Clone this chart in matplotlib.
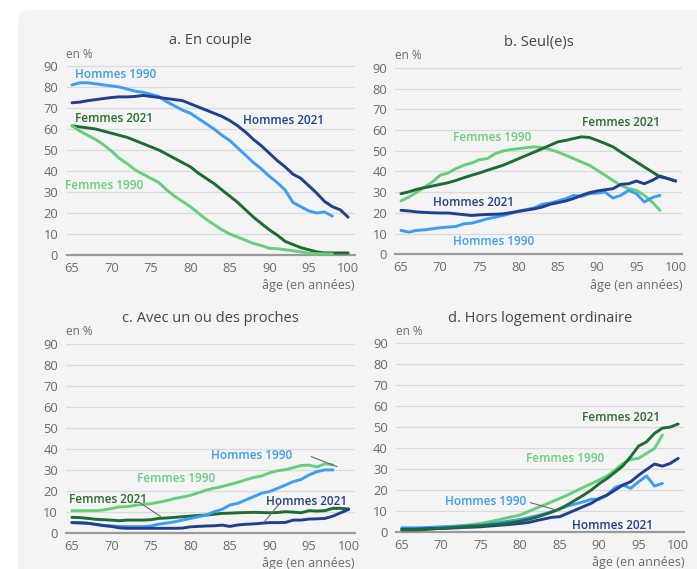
import matplotlib
matplotlib.use("Agg")
import matplotlib.pyplot as plt
from matplotlib.patches import FancyBboxPatch

plt.rcParams['font.family'] = ['Open Sans', 'DejaVu Sans']

ages_2021 = list(range(65, 101))
ages_1990 = list(range(65, 99))

# a. En couple
a_h1990 = [81, 82, 82, 81.5, 81, 80.5, 80, 79, 78, 77.5, 76.5, 75.5, 73, 71, 69, 67.5, 65, 62.5,
           60, 57, 54.5, 51, 47.5, 44, 41, 37.5, 34.5, 31, 25, 23, 21, 20, 20.5, 18.5]
a_h2021 = [72.5, 72.8, 73.5, 74, 74.5, 75, 75.3, 75.3, 75.5, 76, 75.5, 75, 74.5, 74, 73.5, 72, 70.5,
           69, 67.5, 66, 64, 61.5, 58.5, 55, 52, 48.5, 45, 42, 38.5, 36.5, 33, 29.5, 25.5, 23, 21.5, 18]
a_f2021 = [61.5, 61, 60.5, 60, 59, 58, 57, 56, 54.5, 53, 51.5, 50, 48, 46, 44, 42, 39, 36.5, 34, 31,
           28, 25, 21.5, 18, 15, 12, 9.5, 6.5, 5, 3.5, 2.5, 1.5, 1, 1, 1, 1]
a_f1990 = [61.5, 59, 57, 55, 52.5, 49.5, 46, 43.5, 40.5, 38.5, 36.5, 34.5, 31, 28, 25.5, 23, 20, 17,
           14.5, 12, 10, 8.5, 7, 5.5, 4.5, 3.2, 3, 2.5, 2, 1.5, 0.8, 0.6, 0.5, 0.5]

# b. Seul(e)s
b_f2021 = [29.3, 30.2, 31.4, 32.2, 33, 33.8, 34.6, 35.7, 37, 38.2, 39.3, 40.6, 41.8, 43, 44.6, 46.2,
           47.8, 49.4, 51, 52.7, 54.3, 55, 55.9, 56.7, 56.4, 55, 53.5, 51.9, 49.4, 47, 44.6, 42.2,
           39.8, 37.4, 36.6, 35.4]
b_f1990 = [25.8, 27.7, 30, 32.5, 35, 38.2, 39.3, 41.4, 43, 44.1, 45.7, 46.2, 48.6, 49.9, 50.6, 51,
           51.5, 51.9, 51.5, 50.6, 49.4, 47.8, 46.2, 44.6, 43, 40.6, 38.2, 35.7, 33.3, 31.7, 30.9,
           28.5, 25.3, 21.3]
b_h2021 = [21.3, 21, 20.5, 20.3, 20.1, 20, 20, 19.6, 19.2, 18.8, 19.1, 19.3, 19.4, 19.6, 20.2, 20.8,
           21.4, 22, 22.9, 24.2, 25, 25.8, 27, 28.5, 29.8, 30.6, 31.2, 31.7, 33.8, 34.1, 35.4, 34.1,
           35.7, 37.8, 36.6, 35.4]
b_h1990 = [11.6, 10.8, 11.6, 11.9, 12.4, 12.9, 13.2, 13.5, 14.8, 15.1, 16.1, 17.2, 18, 18.8, 19.8,
           20.9, 21.7, 22.5, 24.2, 24.8, 25.8, 26.9, 28.5, 28, 29.3, 29.6, 30.1, 27.2, 28.5, 30.9,
           29.3, 25.3, 27.4, 28.5]

# c. Avec un ou des proches
c_f1990 = [10.5, 10.5, 10.5, 10.5, 10.8, 11.5, 12.3, 12.4, 13, 13.5, 13.8, 14.5, 15.3, 16.3, 17,
           17.8, 19, 20.3, 21.2, 22, 23, 24, 25.2, 26.3, 27, 28.5, 29.5, 30, 31, 32, 32.2, 31.3,
           32.8, 32.3]
c_h1990 = [4.8, 4.7, 4.5, 3.9, 3.4, 3.2, 3, 2.9, 2.9, 2.9, 3.2, 4.1, 4.6, 5.2, 6, 6.8, 7.6, 8.4,
           10, 11.1, 13.2, 14, 15.6, 17.2, 18.8, 19.6, 21.1, 22.7, 24.3, 25.4, 27.5, 29.1, 29.9, 29.9]
c_f2021 = [7.3, 7.2, 6.8, 6.4, 6.2, 6, 5.7, 6, 6, 6, 6.2, 6.8, 7, 7.3, 7.6, 7.9, 8.2, 8.4, 8.8, 9.2,
           9.3, 9.5, 9.6, 9.7, 9.6, 9.5, 9.6, 10, 9.8, 9.5, 10.5, 10.3, 10.5, 11.6, 11.6, 11.3]
c_h2021 = [4.8, 4.7, 4.5, 4, 3.4, 3, 2.3, 2.1, 2.1, 2.1, 2.1, 2.1, 2.1, 2.1, 2.2, 2.8, 3, 3.2, 3.3,
           3.6, 3, 3.7, 4, 4.2, 4.5, 4.8, 4.8, 4.9, 6, 6, 6.5, 6.6, 6.8, 7.9, 9.5, 11.1]

# d. Hors logement ordinaire
d_h1990 = [2, 2, 2, 2.1, 2.3, 2.5, 2.6, 2.8, 3, 3.1, 3.3, 3.8, 4.3, 4.9, 5.4, 6, 6.8, 7.6, 8.6, 9.7,
           11, 12.4, 13.4, 14.4, 15.6, 15.6, 17.6, 21.3, 22.4, 20.8, 24, 26.7, 21.9, 23.2]
d_h2021 = [1.3, 1.3, 1.4, 1.5, 1.6, 1.7, 1.8, 2, 2.2, 2.3, 2.5, 2.8, 3.1, 3.4, 3.7, 4.1, 4.5, 5.4,
           6.2, 7, 7.3, 8.9, 10.5, 12.1, 13.7, 16, 17.6, 20, 22.4, 24, 27.1, 29.8, 32.4, 31.4, 32.7, 35.1]
d_f1990 = [1.3, 1.4, 1.5, 1.7, 1.8, 2, 2.4, 2.8, 3.2, 3.6, 4.1, 4.8, 5.6, 6.5, 7.3, 8.1, 9.7, 11.3,
           12.8, 14.4, 16, 17.6, 19.5, 21.3, 23, 24.8, 26.7, 29.5, 32.7, 34.6, 35.1, 37.5, 39.8, 46.2]
d_f2021 = [1, 1, 1, 1.2, 1.5, 1.8, 2, 2.3, 2.5, 2.8, 3, 3.3, 3.6, 4, 4.5, 5.2, 6, 7, 8.2, 9.5, 11,
           13, 15.3, 17.5, 20, 23, 25.5, 28.5, 31.5, 36, 41, 43, 47, 49.5, 50, 51.5]

titles = ["a. En couple", "b. Seul(e)s", "c. Avec un ou des proches", "d. Hors logement ordinaire"]
yticks = [0, 10, 20, 30, 40, 50, 60, 70, 80, 90]
xticks = [65, 70, 75, 80, 85, 90, 95, 100]

C_H1990 = "#3d9cf4"
C_H2021 = "#213f8c"
C_F2021 = "#1f6b34"
C_F1990 = "#66cf7d"
C_F2021_TXT = "#2b6a2e"

W, H = 697, 569
fig = plt.figure(figsize=(W / 100, H / 100), dpi=100)
fig.patch.set_facecolor("white")
bg = FancyBboxPatch((18 / W, -0.05), 1.0, 1.0 - 10 / H + 0.05,
                    boxstyle="round,pad=0,rounding_size=0.02",
                    transform=fig.transFigure, facecolor="#f4f4f4", edgecolor="none", zorder=-10)
fig.patches.append(bg)

def ax_at(left_px, top_px, right_px, bottom_px):
    return fig.add_axes([left_px / W, 1 - bottom_px / H, (right_px - left_px) / W,
                         (bottom_px - top_px) / H])

XL = (64.3, 100.8)
YL = (0, 92)
# pixel boxes (left, top, right, bottom) for data limits
boxes = [(66.5, 61.8, 354.5, 255), (395.5, 63.6, 682, 254.5),
         (66.3, 339.5, 355, 532.7), (396.2, 339, 684.5, 532)]
axes = [ax_at(*b) for b in boxes]

series = [
    [(ages_1990, a_h1990, C_H1990), (ages_2021, a_h2021, C_H2021),
     (ages_2021, a_f2021, C_F2021), (ages_1990, a_f1990, C_F1990)],
    [(ages_1990, b_f1990, C_F1990), (ages_2021, b_f2021, C_F2021),
     (ages_1990, b_h1990, C_H1990), (ages_2021, b_h2021, C_H2021)],
    [(ages_1990, c_f1990, C_F1990), (ages_2021, c_f2021, C_F2021),
     (ages_1990, c_h1990, C_H1990), (ages_2021, c_h2021, C_H2021)],
    [(ages_1990, d_f1990, C_F1990), (ages_1990, d_h1990, C_H1990),
     (ages_2021, d_h2021, C_H2021), (ages_2021, d_f2021, C_F2021)],
]

labels = [
    [("Hommes 1990", 65.4, 86, C_H1990), ("Femmes 2021", 65.4, 65, C_F2021_TXT),
     ("Femmes 1990", 64.1, 33, C_F1990), ("Hommes 2021", 86.7, 64, C_H2021)],
    [("Femmes 2021", 88.0, 63.4, C_F2021_TXT), ("Femmes 1990", 71.6, 56.2, C_F1990),
     ("Hommes 2021", 69.1, 25.3, C_H2021), ("Hommes 1990", 71.6, 6.3, C_H1990)],
    [("Hommes 1990", 82.6, 36.6, C_H1990), ("Femmes 1990", 73.2, 25.6, C_F1990),
     ("Femmes 2021", 64.6, 16, C_F2021_TXT), ("Hommes 2021", 89.6, 15, C_H2021)],
    [("Femmes 2021", 87.8, 54.4, C_F2021_TXT), ("Femmes 1990", 80.7, 35.2, C_F1990),
     ("Hommes 1990", 70.5, 14.4, C_H1990), ("Hommes 2021", 86.5, 3, C_H2021)],
]

leaders = [
    [],
    [],
    [((73.5, 14.5), (76.2, 7.8)), ((91.3, 14.0), (89.3, 5.0)), ((95.3, 36.2), (98.5, 31.5))],
    [((81.3, 14.0), (84.8, 10.2))],
]

for ax, title, ser, labs, leads in zip(axes, titles, series, labels, leaders):
    ax.set_facecolor("none")
    ax.set_xlim(*XL)
    ax.set_ylim(*YL)
    for s in ["top", "right", "left"]:
        ax.spines[s].set_visible(False)
    ax.spines["bottom"].set_color("#9a9a9a")
    ax.spines["bottom"].set_linewidth(1.6)
    ax.set_yticks(yticks)
    ax.set_xticks(xticks)
    ax.grid(axis="y", color="#dadada", linewidth=0.9)
    ax.set_axisbelow(True)
    ax.tick_params(axis="both", length=0, labelsize=9.3, labelcolor="#6a6a6a")
    ax.tick_params(axis="y", pad=6)
    ax.tick_params(axis="x", pad=5)
    for x, y, c in ser:
        ax.plot(x, y, color=c, linewidth=2.1, solid_capstyle="round", clip_on=False, zorder=3)
    for t, x, y, c in labs:
        ax.text(x, y, t, color=c, fontsize=8.5, fontweight="semibold", ha="left", va="center", zorder=4)
    for (x0, y0), (x1, y1) in leads:
        ax.plot([x0, x1], [y0, y1], color="#6a6a6a", linewidth=0.8, zorder=4)
    ax.text(0.5, 1.108, title, transform=ax.transAxes, ha="center", va="center",
            fontsize=10.5, color="#454545")
    ax.text(0.0, 1.04, "en %", transform=ax.transAxes, ha="left", va="center",
            fontsize=8.5, color="#6a6a6a")
    ax.text(1.0, -0.16, "âge (en années)", transform=ax.transAxes, ha="right", va="center",
            fontsize=9, color="#6a6a6a")

fig.savefig("out.png", dpi=100, facecolor=fig.get_facecolor())
